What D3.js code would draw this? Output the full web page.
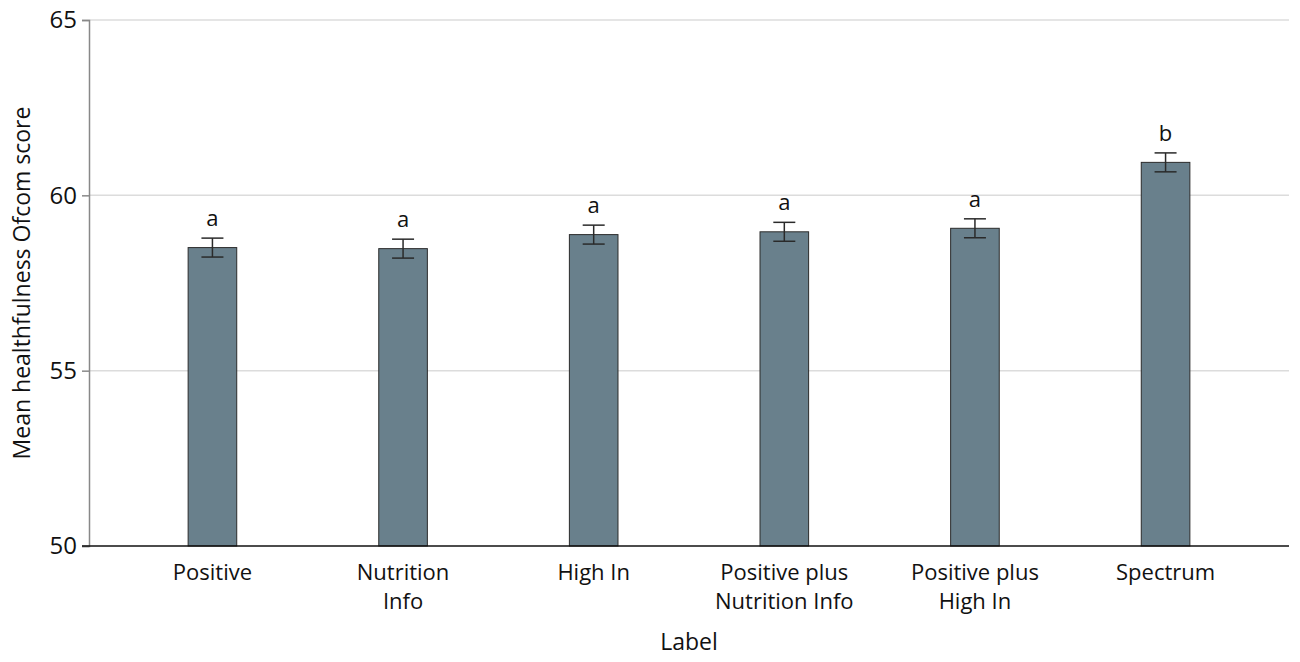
<!DOCTYPE html>
<html>
<head>
<meta charset="utf-8">
<script src="https://cdn.jsdelivr.net/npm/d3@7"></script>
<style>
  body { margin: 0; background: #fff; }
  text { font-family: "Open Sans", "Noto Sans", sans-serif; fill: #111; }
</style>
</head>
<body>
<div id="chart"></div>
<script>
// data
const labels = [["Positive"], ["Nutrition", "Info"], ["High In"],
  ["Positive plus", "Nutrition Info"], ["Positive plus", "High In"], ["Spectrum"]]
const means = [58.51, 58.48, 58.88, 58.96, 59.06, 60.94]
const errs = [0.27, 0.27, 0.27, 0.27, 0.27, 0.27]
const groups = ["a", "a", "a", "a", "a", "b"]
const yTicks = [50, 55, 60, 65]

const W = 1300, H = 662
const margin = { top: 20, right: 11, bottom: 116, left: 89 }
const width = W - margin.left - margin.right
const height = H - margin.top - margin.bottom

const svg = d3.select("#chart").append("svg")
    .attr("width", W).attr("height", H)
const g = svg.append("g")
    .attr("transform", `translate(${margin.left},${margin.top})`)

const x = d3.scaleBand()
    .domain(d3.range(labels.length))
    .range([0, width])
    .paddingInner(0.745)
    .paddingOuter(0.52)
const y = d3.scaleLinear().domain([50, 65]).range([height, 0])

// gridlines
g.selectAll(".grid").data(yTicks.filter(t => t > 50)).enter().append("line")
    .attr("x1", 0).attr("x2", width)
    .attr("y1", d => y(d)).attr("y2", d => y(d))
    .attr("stroke", "#dcdcdc").attr("stroke-width", 1.5)

// y axis
const yAxis = g.append("g")
    .call(d3.axisLeft(y).tickValues(yTicks).tickSize(7).tickPadding(5))
yAxis.select(".domain").attr("stroke", "#888").attr("stroke-width", 1.5)
yAxis.selectAll(".tick line").attr("stroke", "#888").attr("stroke-width", 1.5)
yAxis.selectAll("text").style("font-size", "24px").attr("fill", "#111")

// bars
g.selectAll(".bar").data(means).enter().append("rect")
    .attr("x", (d, i) => x(i))
    .attr("width", x.bandwidth())
    .attr("y", d => y(d))
    .attr("height", d => height - y(d))
    .attr("fill", "#69808c")
    .attr("stroke", "#2b2b2b").attr("stroke-width", 1)

// error bars + group letters
const cap = 11
means.forEach((m, i) => {
    const cx = x(i) + x.bandwidth() / 2
    const eg = g.append("g").attr("stroke", "#2a2a2a").attr("stroke-width", 1.5)
    eg.append("line").attr("x1", cx).attr("x2", cx)
        .attr("y1", y(m + errs[i])).attr("y2", y(m - errs[i]))
    eg.append("line").attr("x1", cx - cap).attr("x2", cx + cap)
        .attr("y1", y(m + errs[i])).attr("y2", y(m + errs[i]))
    eg.append("line").attr("x1", cx - cap).attr("x2", cx + cap)
        .attr("y1", y(m - errs[i])).attr("y2", y(m - errs[i]))
    g.append("text")
        .attr("x", cx).attr("y", y(m + errs[i]) - 12)
        .attr("text-anchor", "middle")
        .style("font-size", "22px")
        .text(groups[i])
})

// x axis baseline
g.append("line")
    .attr("x1", -7).attr("x2", width)
    .attr("y1", height).attr("y2", height)
    .attr("stroke", "#111").attr("stroke-width", 1.5)

// category labels
labels.forEach((lines, i) => {
    const t = g.append("text")
        .attr("x", x(i) + x.bandwidth() / 2)
        .attr("y", height + 34)
        .attr("text-anchor", "middle")
        .style("font-size", "22px")
    lines.forEach((ln, k) => {
        t.append("tspan").attr("x", x(i) + x.bandwidth() / 2)
            .attr("dy", k == 0 ? 0 : 29).text(ln)
    })
})

// axis titles
svg.append("text")
    .attr("x", margin.left + width / 2).attr("y", 650)
    .attr("text-anchor", "middle")
    .style("font-size", "23px")
    .text("Label")

svg.append("text")
    .attr("transform", "translate(30,283) rotate(-90)")
    .attr("text-anchor", "middle")
    .style("font-size", "23px")
    .text("Mean healthfulness Ofcom score")
</script>
</body>
</html>
